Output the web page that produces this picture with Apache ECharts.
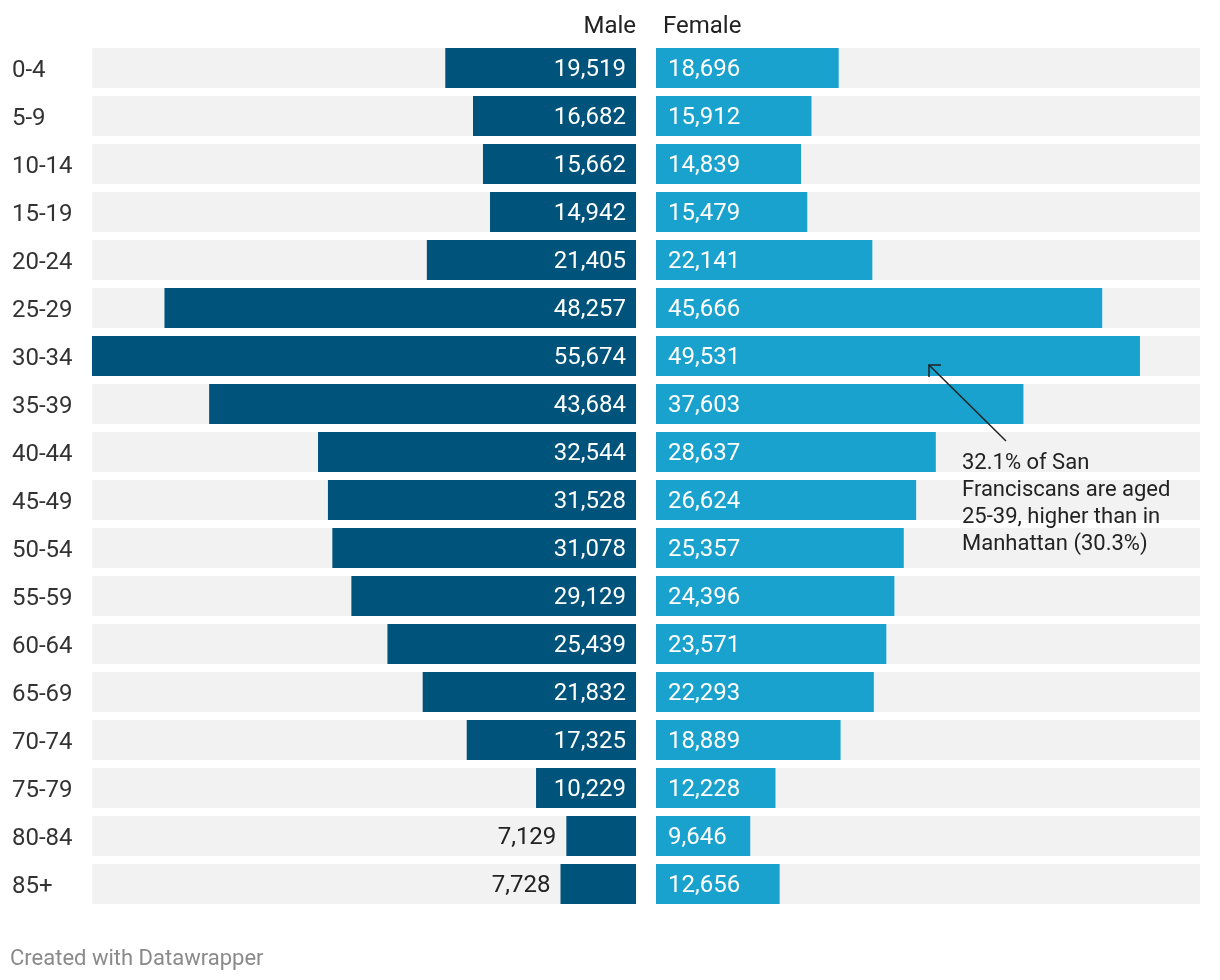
<!DOCTYPE html>
<html>
<head>
<meta charset="utf-8">
<script src="https://cdn.jsdelivr.net/npm/echarts@6/dist/echarts.min.js"></script>
<style>
html,body{margin:0;padding:0;background:#fff;}
#main{width:1220px;height:980px;}
</style>
</head>
<body>
<div id="main"></div>
<script>
const categories = ["0-4","5-9","10-14","15-19","20-24","25-29","30-34","35-39","40-44","45-49","50-54","55-59","60-64","65-69","70-74","75-79","80-84","85+"];
const maleValues = [19519,16682,15662,14942,21405,48257,55674,43684,32544,31528,31078,29129,25439,21832,17325,10229,7129,7728];
const femaleValues = [18696,15912,14839,15479,22141,45666,49531,37603,28637,26624,25357,24396,23571,22293,18889,12228,9646,12656];
const axisMax = 55674;
const outsideThreshold = 9000;

const FONT = 'Roboto';
const chart = echarts.init(document.getElementById('main'), null, {renderer:'canvas'});

const maleData = maleValues.map(v => v < outsideThreshold ? {
  value: v,
  label: {position: 'left', color: '#222', distance: 10}
} : v);

chart.setOption({
  animation: false,
  textStyle: {fontFamily: FONT},
  grid: [
    {left: 92, width: 544, top: 44, height: 864},
    {left: 656, width: 544, top: 44, height: 864}
  ],
  xAxis: [
    {gridIndex: 0, type: 'value', min: 0, max: axisMax, inverse: true, show: false},
    {gridIndex: 1, type: 'value', min: 0, max: axisMax, show: false}
  ],
  yAxis: [
    {gridIndex: 0, type: 'category', data: categories, inverse: true,
     axisLine: {show: false}, axisTick: {show: false}, splitLine: {show: false},
     axisLabel: {show: true, align: 'left', margin: 80, fontSize: 24, color: '#333', fontFamily: FONT,
       formatter: v => '{c|' + v + '}',
       rich: {c: {fontSize: 24, color: '#333', fontFamily: FONT, padding: [5, 0, 0, 0]}}}},
    {gridIndex: 1, type: 'category', data: categories, inverse: true, show: false}
  ],
  series: [
    {
      name: 'Male', type: 'bar', xAxisIndex: 0, yAxisIndex: 0,
      data: maleData, barWidth: 40,
      itemStyle: {color: '#00537b'},
      showBackground: true, backgroundStyle: {color: '#f2f2f2'},
      label: {show: true, position: 'insideRight', distance: 10, color: '#fff', fontSize: 24, fontFamily: FONT, offset: [0, 2],
        formatter: p => p.value.toLocaleString('en-US')}
    },
    {
      name: 'Female', type: 'bar', xAxisIndex: 1, yAxisIndex: 1,
      data: femaleValues, barWidth: 40,
      itemStyle: {color: '#19a2cd'},
      showBackground: true, backgroundStyle: {color: '#f2f2f2'},
      label: {show: true, position: 'insideLeft', distance: 12, color: '#fff', fontSize: 24, fontFamily: FONT, offset: [0, 2],
        formatter: p => p.value.toLocaleString('en-US')}
    }
  ],
  graphic: [
    {type: 'text', z: 100, right: 1220 - 636, top: 15, style: {text: 'Male', fontSize: 24, fill: '#222', fontFamily: FONT, textAlign: 'right'}},
    {type: 'text', z: 100, left: 663, top: 15, style: {text: 'Female', fontSize: 24, fill: '#222', fontFamily: FONT}},
    {type: 'text', z: 100, left: 962, top: 450, style: {text: '32.1% of San\nFranciscans are aged\n25-39, higher than in\nManhattan (30.3%)', fontSize: 22, lineHeight: 27, fill: '#222', fontFamily: FONT}},
    {type: 'line', z: 100, shape: {x1: 1006, y1: 441, x2: 929, y2: 365}, style: {stroke: '#222', lineWidth: 1.5}},
    {type: 'polyline', z: 100, shape: {points: [[929, 377], [929, 365], [941, 365]]}, style: {stroke: '#222', lineWidth: 1.5, fill: null}},
    {type: 'text', z: 100, left: 10, top: 948, style: {text: 'Created with Datawrapper', fontSize: 22, fill: '#8a8a8a', fontFamily: FONT}}
  ]
});
</script>
</body>
</html>
